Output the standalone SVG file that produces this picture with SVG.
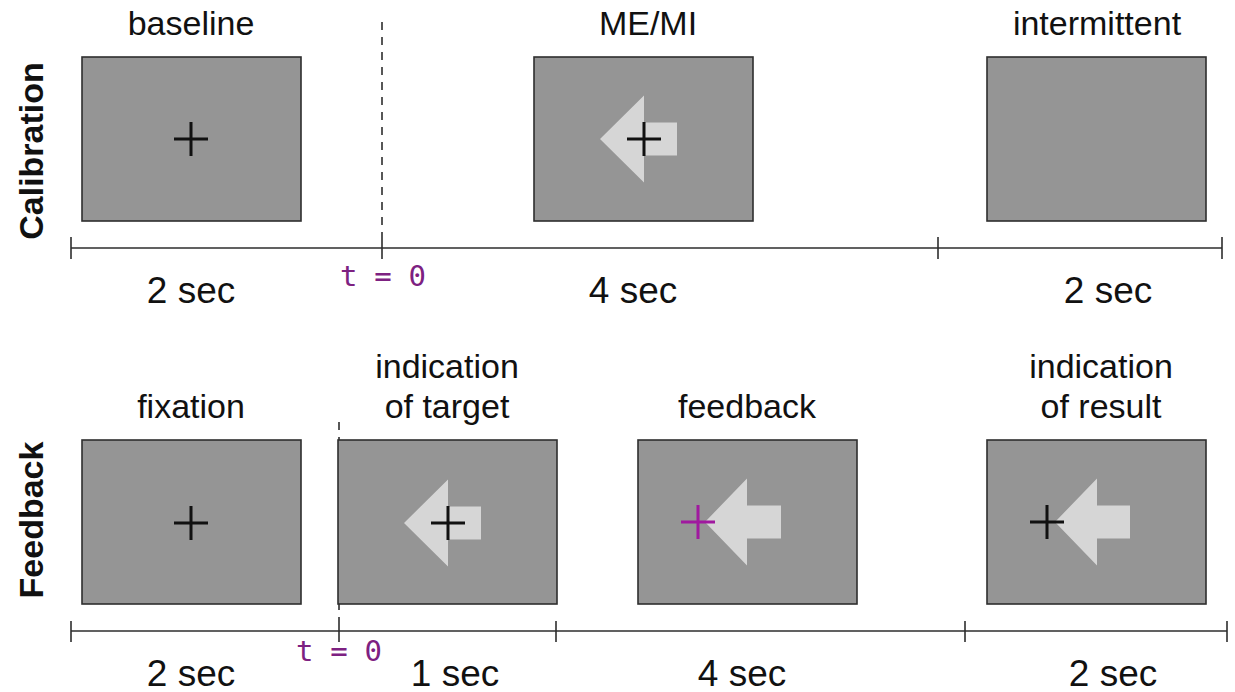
<svg xmlns="http://www.w3.org/2000/svg" xmlns:xlink="http://www.w3.org/1999/xlink" width="1235" height="692" viewBox="0 0 1235 692">
  <style>
    .screen { fill: #959595; stroke: #2e2e2e; stroke-width: 1.6; }
    .arrow { fill: #d6d6d6; stroke: none; }
    .lbl { font-family: "Liberation Sans", Arial, sans-serif; font-size: 34px; fill: #111; text-anchor: middle; }
    .dur { font-family: "Liberation Sans", Arial, sans-serif; font-size: 37px; fill: #111; text-anchor: middle; }
    .row { font-family: "Liberation Sans", Arial, sans-serif; font-size: 34px; font-weight: bold; fill: #111; text-anchor: middle; }
    .t0 { font-family: "DejaVu Sans Mono", "Liberation Mono", monospace; font-size: 29px; fill: #7d2181; }
    .axis { stroke: #2e2e2e; stroke-width: 1.6; fill: none; }
    .dash { stroke: #2e2e2e; stroke-width: 1.6; fill: none; stroke-dasharray: 8 7; }
    .cross { stroke: #111; stroke-width: 3; fill: none; }
    .cross-p { stroke: #a0199f; stroke-width: 3; fill: none; }
  </style>
  <defs>
    <path id="crossShape" d="M-17,0 H17 M0,-17 V17"/>
  </defs>
  <rect width="1235" height="692" fill="#ffffff"/>

  <!-- row labels -->
  <text class="row" transform="translate(43,151) rotate(-90)">Calibration</text>
  <text class="row" transform="translate(43,520) rotate(-90)">Feedback</text>

  <!-- connectors: timelines and t=0 markers -->
  <g id="connectors">
    <path class="dash" d="M382,22 V237"/>
    <path class="axis" d="M71,248 H1222 M71,237 V259 M382,237 V259 M938,237 V259 M1222,237 V259"/>
    <path class="dash" d="M339,422 V621"/>
    <path class="axis" d="M71,631 H1227 M71,621 V642 M339,621 V642 M556,621 V642 M965,621 V642 M1227,621 V642"/>
    <text class="t0" x="340" y="286" textLength="86" lengthAdjust="spacing">t = 0</text>
    <text class="t0" x="296" y="661" textLength="86" lengthAdjust="spacing">t = 0</text>
  </g>

  <!-- Calibration row -->
  <g id="cal-baseline">
    <text class="lbl" x="191" y="35">baseline</text>
    <rect class="screen" x="82" y="57" width="219" height="164"/>
    <use href="#crossShape" class="cross" x="191" y="139"/>
    <text class="dur" x="191" y="303">2 sec</text>
  </g>
  <g id="cal-memi">
    <text class="lbl" x="648" y="35">ME/MI</text>
    <rect class="screen" x="534" y="57" width="219" height="164"/>
    <path class="arrow" d="M600,139 L644,95.5 V122.5 H677 V155.5 H644 V182.5 Z"/>
    <use href="#crossShape" class="cross" x="644" y="139"/>
    <text class="dur" x="633" y="303">4 sec</text>
  </g>
  <g id="cal-intermittent">
    <text class="lbl" x="1097" y="35">intermittent</text>
    <rect class="screen" x="987" y="57" width="219" height="164"/>
    <text class="dur" x="1108" y="303">2 sec</text>
  </g>

  <!-- Feedback row -->
  <g id="fb-fixation">
    <text class="lbl" x="191" y="418">fixation</text>
    <rect class="screen" x="82" y="440" width="219" height="164"/>
    <use href="#crossShape" class="cross" x="191" y="523"/>
    <text class="dur" x="191" y="686">2 sec</text>
  </g>
  <g id="fb-target">
    <text class="lbl" x="447" y="378">indication</text>
    <text class="lbl" x="447" y="418">of target</text>
    <rect class="screen" x="338" y="440" width="219" height="164"/>
    <path class="arrow" d="M404,523 L448,479.5 V506.5 H481 V539.5 H448 V566.5 Z"/>
    <use href="#crossShape" class="cross" x="448" y="523"/>
    <text class="dur" x="455" y="686">1 sec</text>
  </g>
  <g id="fb-feedback">
    <text class="lbl" x="747" y="418">feedback</text>
    <rect class="screen" x="638" y="440" width="219" height="164"/>
    <path class="arrow" d="M705,522 L747,478.5 V505.5 H781 V538.5 H747 V565.5 Z"/>
    <use href="#crossShape" class="cross-p" x="698" y="522"/>
    <text class="dur" x="742" y="686">4 sec</text>
  </g>
  <g id="fb-result">
    <text class="lbl" x="1101" y="378">indication</text>
    <text class="lbl" x="1101" y="418">of result</text>
    <rect class="screen" x="987" y="440" width="219" height="164"/>
    <path class="arrow" d="M1055,522 L1097,478.5 V505.5 H1130 V538.5 H1097 V565.5 Z"/>
    <use href="#crossShape" class="cross" x="1047" y="522"/>
    <text class="dur" x="1113" y="686">2 sec</text>
  </g>
</svg>
